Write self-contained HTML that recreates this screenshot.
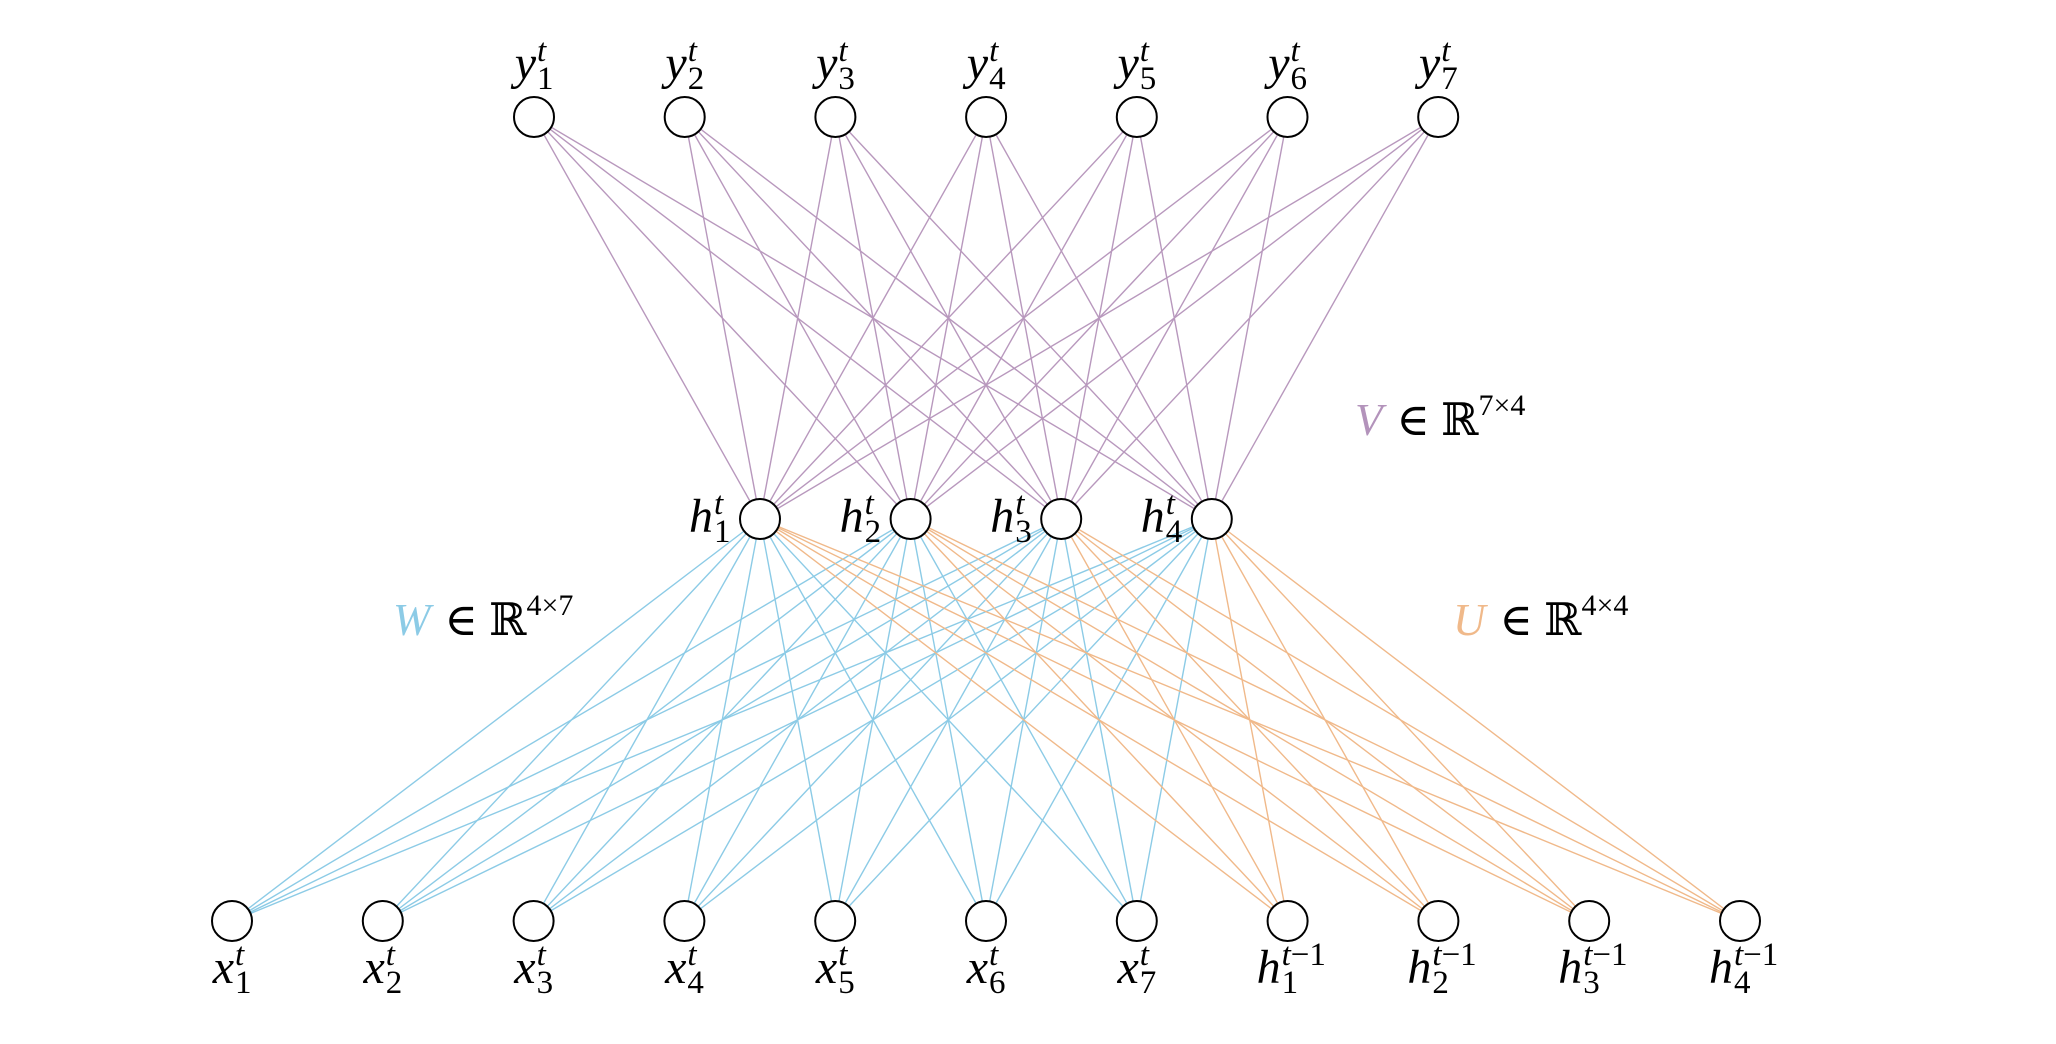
<!DOCTYPE html>
<html><head><meta charset="utf-8"><style>
html,body{margin:0;padding:0;background:#fff;}
svg{display:block;}
text{font-family:"Liberation Serif","DejaVu Serif",serif;fill:#000;}
</style></head><body>
<svg id="net" width="2056" height="1044" viewBox="0 0 2056 1044" xmlns="http://www.w3.org/2000/svg">
<g id="edges"></g>
<g id="nodes"></g>
<g id="labels"></g>
<text x="1355" y="435" font-size="45"><tspan font-style="italic" style="fill:#b393bb">V</tspan><tspan dx="14">∈ ℝ</tspan><tspan font-size="30" dy="-20">7×4</tspan></text>
<text x="393" y="635" font-size="45"><tspan font-style="italic" style="fill:#8ccbe6">W</tspan><tspan dx="14">∈ ℝ</tspan><tspan font-size="30" dy="-20">4×7</tspan></text>
<text x="1453" y="635" font-size="45"><tspan font-style="italic" style="fill:#f0b98a">U</tspan><tspan dx="14">∈ ℝ</tspan><tspan font-size="30" dy="-20">4×4</tspan></text>
</svg>
<script>
const outputNodes = ["1","2","3","4","5","6","7"];
const hiddenNodes = ["1","2","3","4"];
const inputNodes = ["1","2","3","4","5","6","7"];
const prevHiddenNodes = ["1","2","3","4"];

const NS = "http://www.w3.org/2000/svg";
const R = 20;
const yTop = 117, yMid = 519, yBot = 921;
function xTop(i){ return 534 + 150.7*i; }
function xMid(i){ return 760 + 150.6*i; }
function xBot(i){ return 232 + 150.8*i; }

const edges = document.getElementById('edges');
const nodes = document.getElementById('nodes');
const labels = document.getElementById('labels');

function line(x1,y1,x2,y2,color,name){
  const l = document.createElementNS(NS,'line');
  l.setAttribute('x1',x1); l.setAttribute('y1',y1);
  l.setAttribute('x2',x2); l.setAttribute('y2',y2);
  l.setAttribute('stroke',color); l.setAttribute('stroke-width','1.4');
  
  
  edges.appendChild(l);
}
function circle(cx,cy,name){
  const c = document.createElementNS(NS,'circle');
  c.setAttribute('cx',cx); c.setAttribute('cy',cy); c.setAttribute('r',R);
  c.setAttribute('fill','#fff'); c.setAttribute('stroke','#000'); c.setAttribute('stroke-width','2');
  
  
  nodes.appendChild(c);
}
function label(xe,y,base,sub,sup,name){
  const t = document.createElementNS(NS,'text');
  t.setAttribute('y',y);
  t.setAttribute('font-size','48');
  
  
  let supHtml = sup==='t' ? '<tspan font-style="italic">t</tspan>' : '<tspan font-style="italic">t</tspan><tspan>−1</tspan>';
  t.innerHTML = '<tspan x="'+xe+'" text-anchor="end" font-style="italic">'+base+'</tspan>'+
    '<tspan x="'+(xe+1)+'" y="'+(y-18)+'" font-size="33">'+supHtml+'</tspan>'+
    '<tspan x="'+(xe+1)+'" y="'+(y+10)+'" font-size="33">'+sub+'</tspan>';
  labels.appendChild(t);
}

outputNodes.forEach((o,i)=>{ hiddenNodes.forEach((h,j)=>{
  line(xTop(i),yTop,xMid(j),yMid,'#b898bd','v-edge-y'+o+'-h'+h);
});});
inputNodes.forEach((o,i)=>{ hiddenNodes.forEach((h,j)=>{
  line(xBot(i),yBot,xMid(j),yMid,'#8ccbe6','w-edge-x'+o+'-h'+h);
});});
prevHiddenNodes.forEach((o,i)=>{ hiddenNodes.forEach((h,j)=>{
  line(xBot(inputNodes.length+i),yBot,xMid(j),yMid,'#f0b98a','u-edge-hprev'+o+'-h'+h);
});});

outputNodes.forEach((o,i)=>{ circle(xTop(i),yTop,'output-node-y'+o); label(xTop(i)+2,79,'y',o,'t','output-label-y'+o); });
hiddenNodes.forEach((h,j)=>{ circle(xMid(j),yMid,'hidden-node-h'+h); label(xMid(j)-47,532,'h',h,'t','hidden-label-h'+h); });
inputNodes.forEach((o,i)=>{ circle(xBot(i),yBot,'input-node-x'+o); label(xBot(i)+2,983,'x',o,'t','input-label-x'+o); });
prevHiddenNodes.forEach((o,i)=>{ const x=xBot(inputNodes.length+i); circle(x,yBot,'prev-hidden-node-h'+o); label(x-7,983,'h',o,'t-1','prev-hidden-label-h'+o); });
</script>
</body></html>
